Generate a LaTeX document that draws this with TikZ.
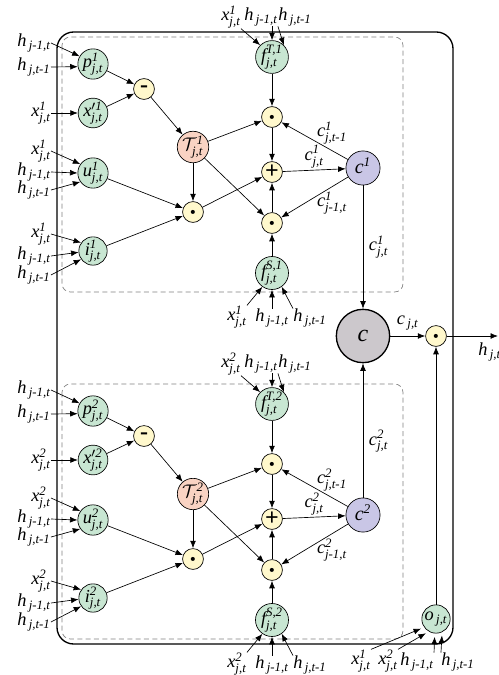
\documentclass[tikz,border=0pt]{standalone}
\usepackage{amsmath}
\usepackage{fontspec}
\setmainfont{Liberation Serif}
\usetikzlibrary{arrows.meta}

\definecolor{gatecol}{RGB}{200,230,210}
\definecolor{opcol}{RGB}{255,248,204}
\definecolor{taucol}{RGB}{249,211,195}
\definecolor{cellcol}{RGB}{201,198,230}
\definecolor{ccol}{RGB}{204,200,204}

\newcommand{\vx}[3]{$\textit{#1}^{\text{\itshape #2}}_{\text{\itshape #3}}$}
\newcommand{\vh}[2]{$\textit{#1}_{\,\text{\itshape #2}}$}
\newcommand{\labfont}{\fontsize{11}{12}\selectfont}

\begin{document}
\begin{tikzpicture}[x=0.6pt, y=-0.6pt,
    gate/.style={circle, draw, fill=gatecol, minimum size=17pt, inner sep=0pt, font=\labfont},
    op/.style={circle, draw, fill=opcol, minimum size=12.5pt, inner sep=0pt, font=\bfseries},
    cell/.style={circle, draw, fill=cellcol, minimum size=20.5pt, inner sep=0pt, font=\large},
    lab/.style={inner sep=0pt, font=\labfont},
    >={Latex[length=4.5pt,width=3.5pt]}]

    \useasboundingbox (0,0) rectangle (498,675);

    \draw[line width=0.8pt, rounded corners=10pt] (57,32) rectangle (453,644);

    \foreach \k/\oy in {1/0, 2/347} {
    \begin{scope}[shift={(0,\oy)}]
        \draw[gray, dash pattern=on 3pt off 2pt, rounded corners=5pt] (62,37) rectangle (403,292);

        % gates and operations
        \node[gate] (p\k) at (93,64) {\vx{p}{\k}{j,t}};
        \node[gate] (xp\k) at (93,113) {$\textit{x}^{\prime\text{\itshape\k}}_{\text{\itshape j,t}}$};
        \node[gate] (u\k) at (93,173) {\vx{u}{\k}{j,t}};
        \node[gate] (i\k) at (93,251) {\vx{i}{\k}{j,t}};
        \node[op] (m\k) at (144,89) {\Large-};
        \node[gate, fill=taucol] (t\k) at (193,147) {$\mathcal{T}^{\text{\itshape\k}}_{\text{\itshape j,t}}$};
        \node[op] (dl\k) at (193,212) {\tiny$\bullet$};
        \node[gate] (ft\k) at (272,57) {\vx{f}{T,\k}{j,t}};
        \node[op] (d1\k) at (272,117) {\tiny$\bullet$};
        \node[op] (pl\k) at (272,172) {\Large+};
        \node[op] (d2\k) at (272,223) {\tiny$\bullet$};
        \node[gate] (fs\k) at (272,273) {\vx{f}{S,\k}{j,t}};
        \node[cell] (c\k) at (363,168) {\vx{c}{\k}{}};

        % inputs
        \node[lab, anchor=east] (ph\k) at (51,43) {\vh{h}{j-1,t}};
        \node[lab, anchor=east] (pv\k) at (51,67) {\vh{h}{j,t-1}};
        \node[lab, anchor=east] (xl\k) at (51,113) {\vx{x}{\k}{j,t}};
        \node[lab, anchor=east] (ux\k) at (51,151) {\vx{x}{\k}{j,t}};
        \node[lab, anchor=east] (uh\k) at (51,172) {\vh{h}{j-1,t}};
        \node[lab, anchor=east] (uv\k) at (51,190) {\vh{h}{j,t-1}};
        \node[lab, anchor=east] (ix\k) at (51,234) {\vx{x}{\k}{j,t}};
        \node[lab, anchor=east] (ih\k) at (51,256) {\vh{h}{j-1,t}};
        \node[lab, anchor=east] (iv\k) at (51,275) {\vh{h}{j,t-1}};
        \node[lab] (fx\k) at (231,17) {\vx{x}{\k}{j,t}};
        \node[lab] (fa\k) at (261,17) {\vh{h}{j-1,t}};
        \node[lab] (fb\k) at (295,17) {\vh{h}{j,t-1}};
        \node[lab] (sx\k) at (237,317) {\vx{x}{\k}{j,t}};
        \node[lab] (sa\k) at (272,318) {\vh{h}{j-1,t}};
        \node[lab] (sb\k) at (310,318) {\vh{h}{j,t-1}};

        \draw[->] (ph\k.east) -- (p\k.150);
        \draw[->] (pv\k.east) -- (p\k.190);
        \draw[->] (xl\k.east) -- (xp\k.180);
        \draw[->] (ux\k.east) -- (u\k.145);
        \draw[->] (uh\k.east) -- (u\k.180);
        \draw[->] (uv\k.east) -- (u\k.215);
        \draw[->] (ix\k.east) -- (i\k.145);
        \draw[->] (ih\k.east) -- (i\k.185);
        \draw[->] (iv\k.east) -- (i\k.215);
        \draw[->] (fx\k.south east) -- (ft\k.135);
        \draw[->] (fa\k.south -| ft\k.north) -- (ft\k.north);
        \draw[->] (fb\k.south west) -- (ft\k.45);
        \draw[->] (sx\k.north east) -- (fs\k.235);
        \draw[->] (sa\k.north -| fs\k.south) -- (fs\k.south);
        \draw[->] (sb\k.north west) -- (fs\k.305);

        % inner connections
        \draw[->] (p\k) -- (m\k);
        \draw[->] (xp\k) -- (m\k);
        \draw[->] (m\k) -- (t\k);
        \draw[->] (t\k) -- (dl\k);
        \draw[->] (u\k) -- (dl\k);
        \draw[->] (i\k) -- (dl\k);
        \draw[->] (t\k) -- (d1\k);
        \draw[->] (t\k) -- (d2\k);
        \draw[->] (dl\k) -- (pl\k);
        \draw[->] (ft\k) -- (d1\k);
        \draw[->] (d1\k) -- (pl\k);
        \draw[->] (d2\k) -- (pl\k);
        \draw[->] (fs\k) -- (d2\k);
        \draw[->] (pl\k) -- (c\k) node[midway, above=1pt, inner sep=0pt, font=\labfont] {\vx{c}{\k}{j,t}};
        \draw[->] (c\k) -- (d1\k);
        \draw[->] (c\k) -- (d2\k);
        \node[lab] at (332,133) {\vx{c}{\k}{j,t-1}};
        \node[lab] at (332,203) {\vx{c}{\k}{j-1,t}};
    \end{scope}
    }

    % cell output
    \node[circle, draw, fill=ccol, minimum size=32pt, line width=0.8pt, font=\Large] (c) at (363,336) {$\textit{c}$};
    \node[op] (od) at (436,336) {\tiny$\bullet$};
    \node[gate] (o) at (436,619) {\vh{o}{j,t}};
    \coordinate (hout) at (498,336);

    \draw[->] (c1) -- (c) node[midway, right, font=\labfont] {\vx{c}{1}{j,t}};
    \draw[->] (c2) -- (c) node[pos=0.42, right, font=\labfont] {\vx{c}{2}{j,t}};
    \draw[->] (c) -- (od) node[midway, above, font=\labfont] {\vh{c}{j,t}};
    \draw[->] (od) -- (hout);
    \node[lab, anchor=west] at (478,352) {\vh{h}{j,t}};
    \draw[->] (o) -- (od);

    \node[lab] (ox1) at (361,661) {\vx{x}{1}{j,t}};
    \node[lab] (ox2) at (388,661) {\vx{x}{2}{j,t}};
    \node[lab] (oh1) at (417,662) {\vh{h}{j-1,t}};
    \node[lab] (oh2) at (458,662) {\vh{h}{j,t-1}};
    \draw[->, shorten >=2pt] (ox1.north east) -- (o.215);
    \draw[->, shorten >=2pt] (ox2.north east) -- (o.240);
    \draw[->, shorten >=2pt] (oh1.north east) -- (o.265);
    \draw[->, shorten >=2pt] (oh2.north west) -- (o.295);
\end{tikzpicture}
\end{document}
